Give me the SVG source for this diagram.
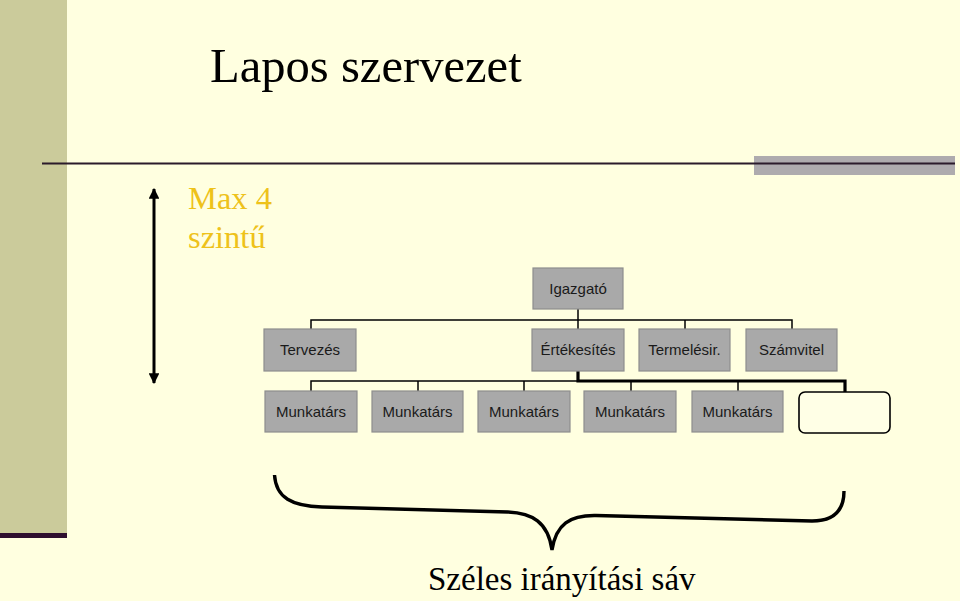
<svg xmlns="http://www.w3.org/2000/svg" width="960" height="601" viewBox="0 0 960 601">
<defs>
<style>
.box{fill:#A9A9A9;stroke:#8E8E8E;stroke-width:1.2}
.lbl{font-family:"Liberation Sans",Arial,sans-serif;font-size:15px;fill:#1A1A1A;text-anchor:middle}
.thin{stroke:#000;stroke-width:1.5;fill:none}
.thick{stroke:#000;stroke-width:3.2;fill:none}
.serif{font-family:"Liberation Serif","Times New Roman",serif}
</style>
<marker id="ah" viewBox="0 0 10 10" refX="9" refY="5" markerWidth="3.6" markerHeight="3.6" orient="auto-start-reverse" markerUnits="strokeWidth">
<path d="M0,0 L10,5 L0,10 z" fill="#000"/>
</marker>
</defs>
<rect width="960" height="601" fill="#FFFFE0"/>
<rect x="0" y="0" width="67" height="533" fill="#CBCB9B"/>
<rect x="0" y="533" width="67" height="5" fill="#2E0E2E"/>
<rect x="754" y="156" width="201" height="19" fill="#AEABAE"/>
<line x1="42" y1="163.5" x2="955" y2="163.5" stroke="#2B1B2B" stroke-width="2.2"/>
<text x="210" y="82" class="serif" font-size="48.6" fill="#000">Lapos szervezet</text>
<text class="serif" font-size="32.5" fill="#EEC21A"><tspan x="188" y="209">Max 4</tspan><tspan x="188" y="248">szintű</tspan></text>
<line x1="154" y1="189" x2="154" y2="383" stroke="#000" stroke-width="3" marker-start="url(#ah)" marker-end="url(#ah)"/>
<g id="connectors">
<polyline class="thin" points="311,329 311,320 792,320 792,329"/>
<line class="thin" x1="578" y1="309" x2="578" y2="329"/>
<line class="thin" x1="685" y1="320" x2="685" y2="329"/>
<polyline class="thin" points="311,391 311,381 578,381"/>
<line class="thin" x1="418" y1="381" x2="418" y2="391"/>
<line class="thin" x1="524" y1="381" x2="524" y2="391"/>
<line class="thin" x1="631" y1="381" x2="631" y2="391"/>
<line class="thin" x1="738" y1="381" x2="738" y2="391"/>
<polyline class="thick" points="578,371 578,381 845,381 845,392"/>
</g>
<g id="igazgato"><rect class="box" x="533" y="268" width="90" height="41"/><text class="lbl" x="578" y="294">Igazgató</text></g>
<g id="tervezes"><rect class="box" x="264" y="329" width="92" height="42"/><text class="lbl" x="310" y="355">Tervezés</text></g>
<g id="ertekesites"><rect class="box" x="532" y="329" width="92" height="42"/><text class="lbl" x="578" y="355">Értékesítés</text></g>
<g id="termelesir"><rect class="box" x="639" y="329" width="91" height="42"/><text class="lbl" x="684.5" y="355">Termelésir.</text></g>
<g id="szamvitel"><rect class="box" x="746" y="329" width="91" height="42"/><text class="lbl" x="791.5" y="355">Számvitel</text></g>
<g id="munkatars1"><rect class="box" x="265" y="391" width="92" height="41"/><text class="lbl" x="311" y="417">Munkatárs</text></g>
<g id="munkatars2"><rect class="box" x="372" y="391" width="91" height="41"/><text class="lbl" x="417.5" y="417">Munkatárs</text></g>
<g id="munkatars3"><rect class="box" x="478" y="391" width="92" height="41"/><text class="lbl" x="524" y="417">Munkatárs</text></g>
<g id="munkatars4"><rect class="box" x="584" y="391" width="92" height="41"/><text class="lbl" x="630" y="417">Munkatárs</text></g>
<g id="munkatars5"><rect class="box" x="692" y="391" width="91" height="41"/><text class="lbl" x="737.5" y="417">Munkatárs</text></g>
<g id="empty"><rect x="799" y="392" width="91" height="41" rx="6" fill="#FFFFE6" stroke="#000" stroke-width="1.6"/></g>
<path d="M274.5,475 C276,498 292,506 322,507 L508,512 C532,513 548,522 552,550 C556,524 570,515 596,515.5 L812,521 C836,521 844,508 844,491" fill="none" stroke="#000" stroke-width="3.4"/>
<text x="428" y="590" class="serif" font-size="33" fill="#000">Széles irányítási sáv</text>
</svg>
